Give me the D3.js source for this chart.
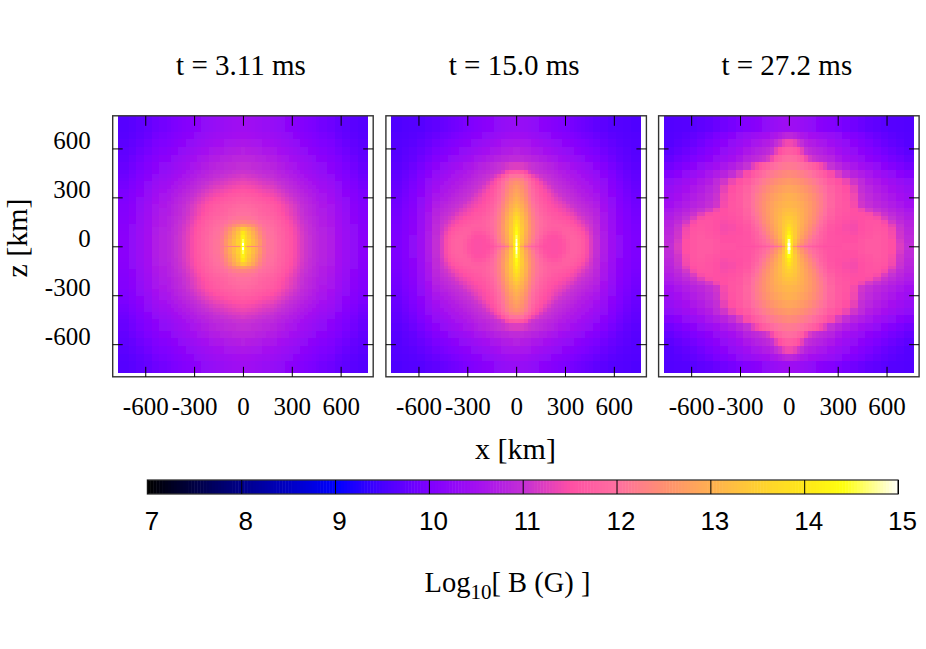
<!DOCTYPE html>
<html>
<head>
<meta charset="utf-8">
<script src="https://d3js.org/d3.v7.min.js"></script>
<style>
    body { margin: 0; background: #fff; }
    text { fill: #000; }
</style>
</head>
<body>
<div id="chart"></div>
<script>
// data: log10 B on one quadrant (z rows going up, x columns going right)
const titles = ["t = 3.11 ms", "t = 15.0 ms", "t = 27.2 ms"];
const xTicks = [-600, -300, 0, 300, 600];
const zTicks = [600, 300, 0, -300, -600];
const barTicks = [7, 8, 9, 10, 11, 12, 13, 14, 15];

// palette of the colour bar
const paletteValues = [7, 8, 9, 9.5, 10, 10.5, 11, 11.5, 12, 12.5, 13, 13.5, 14, 14.4, 15];
const paletteColors = ["#000000", "#00008b", "#0000ff", "#4a00ff", "#8000ff", "#a410f0", "#c430d4", "#ff50a4", "#ff70a0", "#ff9070", "#ffb050", "#ffd030", "#ffe818", "#ffff10", "#ffffff"];

// cell edges in km
const fineEdges = [0, 6, 12, 23, 47, 71, 94, 118, 141, 165, 188, 212, 235, 259, 282, 306, 329, 353, 376, 400, 423, 447, 470, 517, 564, 611, 658, 705, 766];
const midEdges = [0, 6, 12, 24, 47, 71, 94, 118, 141, 165, 188, 212, 235, 282, 329, 376, 423, 470, 517, 564, 611, 658, 705, 766];

const fieldEarly = [
    [14.4,14.0,13.1,12.5,12.3,12.3,12.3,12.15,12.07,12.05,11.95,11.85,11.76,11.65,11.55,11.43,11.3,11.18,11.08,11.0,10.92,10.85,10.78,10.68,10.52,10.38,10.25,10.15],
    [14.9,14.4,13.7,13.4,13.2,12.95,12.6,12.25,12.07,12.05,11.95,11.85,11.76,11.65,11.55,11.43,11.3,11.18,11.08,11.0,10.92,10.85,10.78,10.68,10.52,10.38,10.25,10.15],
    [15.0,14.4,13.8,13.5,13.2,12.95,12.6,12.25,12.07,12.05,11.95,11.85,11.76,11.65,11.55,11.43,11.3,11.18,11.08,11.0,10.92,10.85,10.78,10.68,10.52,10.38,10.25,10.15],
    [14.6,14.2,13.8,13.5,13.2,12.9,12.6,12.25,12.07,12.05,11.95,11.85,11.76,11.65,11.55,11.43,11.3,11.18,11.08,11.0,10.92,10.85,10.78,10.68,10.52,10.38,10.25,10.15],
    [14.2,14.1,13.7,13.4,13.1,12.8,12.5,12.2,12.05,12.02,11.93,11.83,11.75,11.64,11.54,11.42,11.3,11.18,11.08,11.0,10.92,10.85,10.78,10.68,10.52,10.38,10.25,10.15],
    [14.0,13.9,13.6,13.3,13.0,12.7,12.4,12.15,12.03,12.0,11.9,11.82,11.73,11.62,11.52,11.4,11.28,11.16,11.06,10.98,10.9,10.83,10.77,10.66,10.5,10.37,10.24,10.14],
    [13.4,13.4,13.3,13.1,12.85,12.55,12.3,12.1,12.0,11.97,11.88,11.8,11.7,11.6,11.5,11.38,11.25,11.14,11.05,10.97,10.89,10.82,10.75,10.65,10.5,10.36,10.24,10.13],
    [12.7,12.7,12.65,12.6,12.45,12.3,12.15,12.02,11.95,11.92,11.84,11.76,11.66,11.56,11.46,11.34,11.22,11.12,11.03,10.95,10.87,10.8,10.74,10.64,10.48,10.35,10.22,10.12],
    [12.3,12.3,12.3,12.25,12.2,12.12,12.02,11.95,11.9,11.87,11.8,11.72,11.62,11.52,11.42,11.3,11.18,11.08,11.0,10.93,10.85,10.78,10.72,10.62,10.47,10.33,10.2,10.1],
    [12.1,12.1,12.1,12.08,12.04,11.98,11.92,11.87,11.83,11.8,11.73,11.65,11.56,11.46,11.36,11.25,11.14,11.05,10.97,10.9,10.83,10.76,10.7,10.6,10.45,10.32,10.19,10.09],
    [12.0,12.0,12.0,11.98,11.94,11.9,11.85,11.8,11.77,11.74,11.67,11.6,11.5,11.4,11.3,11.2,11.1,11.02,10.94,10.87,10.8,10.73,10.67,10.57,10.43,10.3,10.17,10.07],
    [11.95,11.95,11.95,11.93,11.9,11.86,11.82,11.76,11.72,11.68,11.62,11.55,11.46,11.37,11.28,11.18,11.08,11.0,10.92,10.85,10.78,10.71,10.65,10.55,10.41,10.28,10.16,10.06],
    [11.9,11.9,11.9,11.88,11.85,11.82,11.78,11.72,11.68,11.66,11.6,11.52,11.43,11.34,11.24,11.15,11.06,10.98,10.9,10.83,10.77,10.7,10.64,10.54,10.4,10.27,10.15,10.05],
    [11.82,11.82,11.82,11.8,11.77,11.74,11.7,11.65,11.6,11.58,11.52,11.45,11.36,11.27,11.18,11.1,11.02,10.94,10.87,10.8,10.74,10.67,10.61,10.51,10.37,10.25,10.13,10.03],
    [11.75,11.75,11.74,11.72,11.7,11.66,11.62,11.57,11.53,11.5,11.44,11.37,11.29,11.2,11.12,11.05,10.97,10.9,10.83,10.77,10.7,10.63,10.57,10.48,10.34,10.22,10.1,10.0],
    [11.65,11.65,11.64,11.62,11.6,11.56,11.52,11.47,11.44,11.41,11.35,11.28,11.2,11.12,11.05,10.98,10.92,10.85,10.78,10.72,10.66,10.6,10.54,10.45,10.31,10.19,10.08,9.98],
    [11.55,11.55,11.54,11.52,11.5,11.46,11.42,11.37,11.34,11.31,11.25,11.18,11.11,11.04,10.98,10.92,10.85,10.79,10.73,10.67,10.61,10.55,10.5,10.41,10.28,10.16,10.05,9.95],
    [11.45,11.45,11.44,11.42,11.4,11.36,11.32,11.27,11.24,11.21,11.15,11.09,11.03,10.97,10.91,10.85,10.79,10.73,10.67,10.61,10.56,10.5,10.45,10.37,10.24,10.13,10.02,9.92],
    [11.35,11.35,11.34,11.32,11.3,11.26,11.22,11.17,11.14,11.12,11.07,11.01,10.96,10.9,10.84,10.79,10.73,10.67,10.62,10.56,10.51,10.46,10.41,10.33,10.21,10.1,9.99,9.89],
    [11.25,11.25,11.24,11.22,11.2,11.17,11.13,11.09,11.06,11.04,10.99,10.94,10.89,10.84,10.78,10.73,10.67,10.62,10.56,10.51,10.46,10.41,10.36,10.29,10.17,10.06,9.96,9.86],
    [11.15,11.15,11.14,11.12,11.1,11.07,11.04,11.0,10.98,10.96,10.92,10.87,10.82,10.77,10.72,10.67,10.61,10.56,10.51,10.46,10.41,10.36,10.32,10.24,10.13,10.03,9.93,9.83],
    [11.05,11.05,11.04,11.03,11.01,10.99,10.96,10.93,10.91,10.89,10.85,10.8,10.75,10.7,10.65,10.6,10.55,10.5,10.45,10.41,10.36,10.31,10.27,10.2,10.09,9.99,9.9,9.8],
    [10.98,10.98,10.97,10.96,10.94,10.92,10.89,10.86,10.84,10.82,10.78,10.73,10.69,10.64,10.59,10.54,10.5,10.45,10.4,10.36,10.31,10.26,10.22,10.15,10.05,9.96,9.87,9.78],
    [10.88,10.88,10.87,10.86,10.84,10.82,10.79,10.76,10.74,10.72,10.68,10.64,10.59,10.55,10.5,10.46,10.42,10.38,10.33,10.29,10.24,10.2,10.16,10.09,10.0,9.91,9.82,9.74],
    [10.75,10.75,10.74,10.73,10.71,10.69,10.66,10.63,10.62,10.6,10.56,10.52,10.48,10.44,10.4,10.36,10.32,10.28,10.24,10.2,10.16,10.12,10.08,10.02,9.93,9.84,9.76,9.7],
    [10.62,10.62,10.61,10.6,10.58,10.56,10.54,10.51,10.5,10.48,10.45,10.42,10.38,10.35,10.31,10.27,10.23,10.2,10.16,10.12,10.08,10.04,10.0,9.95,9.87,9.79,9.72,9.67],
    [10.52,10.52,10.51,10.5,10.48,10.46,10.44,10.42,10.41,10.39,10.36,10.33,10.29,10.26,10.22,10.19,10.15,10.12,10.08,10.05,10.01,9.98,9.94,9.89,9.81,9.74,9.68,9.64],
    [10.45,10.45,10.44,10.43,10.41,10.39,10.37,10.34,10.33,10.31,10.28,10.25,10.22,10.19,10.15,10.12,10.08,10.05,10.02,9.98,9.95,9.92,9.88,9.83,9.76,9.7,9.65,9.62]
];

const fieldMiddle = [
    [14.7,14.4,13.6,12.7,12.1,11.85,11.75,11.65,11.55,11.5,11.5,11.48,11.48,11.5,11.55,11.68,11.78,11.78,11.72,11.62,11.45,11.2,10.98,10.68,10.42,10.22,10.08,9.98],
    [15.0,14.7,14.0,13.1,12.5,12.2,11.95,11.78,11.6,11.5,11.5,11.48,11.48,11.5,11.55,11.68,11.78,11.78,11.72,11.62,11.45,11.2,10.98,10.68,10.42,10.22,10.08,9.98],
    [15.0,14.7,14.1,13.2,12.7,12.35,12.05,11.85,11.65,11.52,11.5,11.48,11.48,11.5,11.55,11.68,11.78,11.78,11.72,11.62,11.45,11.2,10.98,10.68,10.42,10.22,10.08,9.98],
    [14.9,14.6,14.0,13.3,12.85,12.5,12.18,11.92,11.7,11.55,11.5,11.48,11.48,11.5,11.58,11.7,11.78,11.78,11.72,11.62,11.45,11.2,10.98,10.68,10.42,10.22,10.08,9.98],
    [14.6,14.5,13.95,13.35,12.9,12.55,12.25,12.0,11.8,11.62,11.52,11.5,11.5,11.55,11.65,11.75,11.78,11.75,11.68,11.58,11.42,11.18,10.96,10.66,10.41,10.21,10.08,9.98],
    [14.4,14.3,13.9,13.4,12.95,12.6,12.3,12.05,11.88,11.74,11.62,11.57,11.58,11.64,11.72,11.76,11.74,11.7,11.62,11.52,11.36,11.14,10.94,10.65,10.4,10.2,10.07,9.97],
    [14.25,14.2,13.85,13.4,13.0,12.62,12.3,12.08,11.92,11.82,11.74,11.68,11.68,11.7,11.72,11.72,11.68,11.62,11.54,11.42,11.26,11.1,10.92,10.64,10.38,10.19,10.06,9.96],
    [14.1,14.05,13.8,13.35,13.0,12.62,12.3,12.08,11.94,11.84,11.77,11.72,11.72,11.72,11.69,11.65,11.6,11.54,11.44,11.32,11.18,11.06,10.9,10.62,10.37,10.18,10.05,9.95],
    [13.95,13.9,13.7,13.3,12.98,12.58,12.28,12.08,11.94,11.83,11.76,11.7,11.68,11.66,11.62,11.58,11.52,11.44,11.34,11.22,11.1,11.02,10.88,10.6,10.36,10.17,10.04,9.94],
    [13.75,13.72,13.55,13.25,12.92,12.55,12.25,12.05,11.9,11.8,11.72,11.65,11.62,11.58,11.54,11.5,11.42,11.34,11.22,11.12,11.04,10.98,10.85,10.58,10.34,10.16,10.03,9.93],
    [13.55,13.52,13.4,13.15,12.85,12.5,12.2,12.0,11.85,11.75,11.65,11.6,11.56,11.52,11.46,11.4,11.32,11.22,11.1,11.03,10.97,10.92,10.8,10.55,10.32,10.14,10.01,9.91],
    [13.38,13.35,13.25,13.05,12.75,12.42,12.15,11.95,11.8,11.7,11.6,11.54,11.5,11.44,11.38,11.3,11.2,11.1,11.03,10.97,10.92,10.86,10.76,10.52,10.3,10.12,10.0,9.9],
    [13.22,13.2,13.1,12.95,12.65,12.35,12.08,11.9,11.76,11.65,11.55,11.48,11.42,11.36,11.28,11.18,11.08,11.02,10.96,10.92,10.86,10.8,10.7,10.49,10.27,10.1,9.98,9.88],
    [13.1,13.08,13.0,12.85,12.58,12.28,12.02,11.85,11.7,11.6,11.5,11.42,11.36,11.28,11.18,11.08,11.02,10.96,10.92,10.86,10.8,10.75,10.65,10.45,10.24,10.08,9.96,9.86],
    [13.0,12.98,12.9,12.75,12.5,12.2,11.96,11.8,11.66,11.55,11.46,11.38,11.28,11.18,11.08,11.02,10.96,10.92,10.86,10.8,10.74,10.69,10.6,10.42,10.22,10.06,9.94,9.84],
    [12.9,12.88,12.82,12.66,12.42,12.14,11.92,11.75,11.6,11.5,11.42,11.3,11.18,11.08,11.02,10.96,10.92,10.86,10.8,10.74,10.69,10.64,10.55,10.38,10.19,10.04,9.92,9.82],
    [12.8,12.78,12.72,12.58,12.35,12.08,11.88,11.7,11.55,11.45,11.32,11.18,11.08,11.02,10.96,10.92,10.86,10.8,10.74,10.69,10.64,10.59,10.5,10.34,10.16,10.01,9.9,9.8],
    [12.7,12.68,12.62,12.5,12.28,12.02,11.82,11.62,11.48,11.34,11.2,11.08,11.02,10.96,10.9,10.85,10.8,10.74,10.69,10.64,10.59,10.54,10.45,10.3,10.13,9.98,9.87,9.78],
    [12.55,12.55,12.5,12.4,12.2,11.95,11.72,11.52,11.38,11.22,11.08,11.02,10.96,10.9,10.85,10.8,10.74,10.69,10.64,10.59,10.54,10.49,10.4,10.26,10.1,9.96,9.85,9.76],
    [12.35,12.35,12.32,12.25,12.02,11.85,11.6,11.42,11.22,11.08,11.02,10.96,10.9,10.85,10.8,10.74,10.69,10.64,10.59,10.54,10.49,10.44,10.35,10.22,10.07,9.93,9.82,9.74],
    [12.05,12.05,12.02,11.98,11.8,11.6,11.35,11.2,11.08,11.02,10.96,10.9,10.85,10.8,10.74,10.69,10.64,10.59,10.54,10.49,10.44,10.39,10.3,10.17,10.03,9.9,9.8,9.72],
    [11.65,11.65,11.63,11.6,11.45,11.2,11.08,11.02,10.97,10.93,10.88,10.84,10.79,10.73,10.68,10.63,10.58,10.53,10.48,10.43,10.38,10.33,10.25,10.12,9.99,9.87,9.77,9.7],
    [11.2,11.2,11.2,11.18,11.12,11.05,11.0,10.95,10.9,10.85,10.8,10.75,10.7,10.64,10.6,10.55,10.5,10.45,10.4,10.36,10.31,10.27,10.18,10.05,9.93,9.82,9.73,9.67],
    [10.92,10.92,10.92,10.9,10.88,10.85,10.8,10.76,10.72,10.67,10.62,10.58,10.53,10.48,10.43,10.39,10.35,10.31,10.26,10.21,10.17,10.12,10.05,9.94,9.85,9.75,9.69,9.64],
    [10.75,10.75,10.75,10.73,10.7,10.67,10.63,10.6,10.56,10.52,10.48,10.43,10.39,10.35,10.31,10.27,10.23,10.19,10.15,10.1,10.06,10.02,9.96,9.87,9.79,9.72,9.66,9.62],
    [10.6,10.6,10.6,10.58,10.56,10.53,10.5,10.46,10.42,10.38,10.35,10.31,10.27,10.24,10.2,10.16,10.12,10.08,10.04,10.01,9.97,9.93,9.88,9.8,9.73,9.67,9.63,9.6],
    [10.45,10.45,10.45,10.43,10.41,10.38,10.35,10.32,10.28,10.25,10.21,10.18,10.15,10.12,10.08,10.05,10.01,9.97,9.94,9.9,9.87,9.84,9.79,9.73,9.67,9.63,9.6,9.58],
    [10.32,10.32,10.32,10.31,10.29,10.27,10.24,10.21,10.18,10.15,10.12,10.09,10.05,10.02,9.99,9.95,9.92,9.88,9.85,9.82,9.79,9.76,9.71,9.66,9.62,9.59,9.57,9.55]
];

const fieldLate = [
    [14.8,14.5,13.3,12.5,12.0,11.9,11.8,11.7,11.65,11.6,11.55,11.5,11.5,11.5,11.55,11.55,11.6,11.65,11.65,11.6,11.5,11.2,10.95],
    [15.0,14.6,13.8,13.1,12.6,12.3,12.05,11.9,11.78,11.7,11.62,11.55,11.55,11.52,11.55,11.55,11.6,11.65,11.65,11.6,11.5,11.2,10.95],
    [15.0,14.7,13.9,13.2,12.75,12.5,12.25,12.02,11.9,11.8,11.68,11.6,11.55,11.52,11.55,11.55,11.6,11.65,11.65,11.6,11.5,11.2,10.95],
    [14.8,14.5,13.9,13.3,12.9,12.6,12.35,12.12,11.95,11.85,11.72,11.62,11.55,11.52,11.5,11.5,11.6,11.65,11.65,11.6,11.5,11.15,10.92],
    [14.4,14.3,13.85,13.4,13.05,12.75,12.5,12.25,12.05,11.92,11.78,11.66,11.55,11.52,11.5,11.5,11.55,11.6,11.65,11.6,11.45,11.1,10.9],
    [14.1,14.0,13.7,13.4,13.1,12.85,12.6,12.38,12.15,11.98,11.82,11.68,11.55,11.5,11.48,11.45,11.52,11.58,11.62,11.58,11.42,11.08,10.87],
    [13.9,13.85,13.6,13.4,13.12,12.9,12.68,12.45,12.25,12.05,11.88,11.72,11.56,11.5,11.45,11.42,11.5,11.55,11.6,11.55,11.4,11.05,10.85],
    [13.7,13.65,13.5,13.38,13.15,12.95,12.72,12.52,12.32,12.12,11.95,11.78,11.6,11.52,11.45,11.42,11.5,11.55,11.58,11.5,11.3,11.0,10.82],
    [13.5,13.5,13.45,13.35,13.15,12.97,12.78,12.58,12.4,12.2,12.02,11.85,11.66,11.55,11.48,11.45,11.5,11.55,11.55,11.42,11.12,10.92,10.78],
    [13.4,13.4,13.38,13.3,13.13,12.98,12.8,12.62,12.45,12.27,12.1,11.92,11.72,11.58,11.52,11.48,11.5,11.52,11.45,11.2,11.0,10.85,10.72],
    [13.3,13.3,13.28,13.22,13.1,12.98,12.82,12.65,12.48,12.32,12.15,11.98,11.78,11.62,11.55,11.5,11.5,11.45,11.25,11.05,10.9,10.77,10.65],
    [13.2,13.2,13.18,13.15,13.05,12.95,12.82,12.67,12.5,12.35,12.2,12.02,11.82,11.64,11.58,11.5,11.38,11.15,11.02,10.92,10.8,10.7,10.58],
    [13.1,13.1,13.08,13.05,12.98,12.9,12.78,12.65,12.5,12.36,12.22,12.05,11.85,11.66,11.58,11.42,11.1,10.98,10.88,10.78,10.68,10.58,10.48],
    [13.0,13.0,12.98,12.95,12.88,12.8,12.7,12.58,12.45,12.32,12.2,12.03,11.83,11.65,11.55,11.38,11.05,10.9,10.8,10.7,10.6,10.5,10.4],
    [12.85,12.85,12.83,12.8,12.74,12.66,12.56,12.45,12.33,12.22,12.1,11.97,11.78,11.62,11.5,11.3,10.98,10.83,10.72,10.62,10.52,10.42,10.32],
    [12.65,12.65,12.63,12.6,12.54,12.47,12.38,12.28,12.17,12.06,11.95,11.83,11.66,11.52,11.35,11.1,10.9,10.74,10.62,10.52,10.42,10.32,10.22],
    [12.4,12.4,12.38,12.36,12.3,12.24,12.16,12.06,11.96,11.85,11.75,11.62,11.45,11.18,10.98,10.82,10.68,10.56,10.45,10.35,10.25,10.15,10.05],
    [12.15,12.15,12.14,12.12,12.06,12.0,11.92,11.82,11.7,11.58,11.42,11.25,11.0,10.85,10.7,10.58,10.47,10.37,10.27,10.16,10.06,9.96,9.88],
    [11.95,11.95,11.94,11.9,11.82,11.68,11.4,11.15,11.05,10.98,10.92,10.87,10.78,10.63,10.5,10.4,10.3,10.2,10.1,10.0,9.92,9.84,9.76],
    [11.7,11.7,11.68,11.62,11.5,11.3,11.0,10.92,10.85,10.8,10.75,10.7,10.62,10.48,10.38,10.28,10.18,10.08,9.98,9.9,9.82,9.75,9.68],
    [11.4,11.4,11.38,11.3,11.1,10.95,10.8,10.74,10.68,10.63,10.58,10.53,10.45,10.35,10.26,10.16,10.06,9.97,9.88,9.8,9.74,9.68,9.62],
    [10.88,10.88,10.87,10.82,10.72,10.64,10.56,10.52,10.48,10.44,10.4,10.36,10.3,10.22,10.12,10.03,9.95,9.87,9.8,9.74,9.68,9.63,9.6],
    [10.42,10.42,10.42,10.4,10.37,10.33,10.29,10.25,10.21,10.17,10.13,10.09,10.05,9.98,9.92,9.86,9.8,9.74,9.69,9.65,9.62,9.59,9.57]
];

const fields = [fieldEarly, fieldMiddle, fieldLate];
const edges = [fineEdges, fineEdges, midEdges];

const width = 926, height = 649;
const serif = "'Liberation Serif', serif";
const sans = "'Liberation Sans', sans-serif";

const svg = d3.select("#chart").append("svg")
    .attr("width", width)
    .attr("height", height)
    .style("display", "block");

const defs = svg.append("defs");
defs.append("filter")
    .attr("id", "soft")
    .attr("x", "-5%").attr("y", "-5%").attr("width", "110%").attr("height", "110%")
    .append("feGaussianBlur")
    .attr("stdDeviation", 0.55);

const color = d3.scaleLinear()
    .domain(paletteValues)
    .range(paletteColors)
    .clamp(true);

// panel frames
const panelLeft = [112.7, 385.9, 658.6];
const panelWidth = 260.5;
const panelTop = 115.8;
const panelHeight = 261;
const zMin = -775;

panelLeft.forEach((left, p) => {
    const x = d3.scaleLinear().domain([-800, 800]).range([left, left + panelWidth]);
    const z = d3.scaleLinear().domain([-800, 800]).range([panelTop + panelHeight, panelTop]);

    defs.append("clipPath")
        .attr("id", "clip" + p)
        .append("rect")
        .attr("x", left).attr("y", panelTop)
        .attr("width", panelWidth).attr("height", panelHeight);

    // expand the quadrant into the four quadrants
    const cells = [];
    const e = edges[p];
    fields[p].forEach((row, i) => {
        row.forEach((v, j) => {
            [1, -1].forEach(sx => {
                [1, -1].forEach(sz => {
                    // top row runs past the frame, bottom stops at zMin
                    const zFar = i === row.length - 1 ? (sz > 0 ? 830 : zMin) : sz * e[i + 1];
                    cells.push({
                        x0: Math.min(sx * e[j], sx * e[j + 1]),
                        x1: Math.max(sx * e[j], sx * e[j + 1]),
                        z0: Math.min(sz * e[i], zFar),
                        z1: Math.max(sz * e[i], zFar),
                        v: v
                    });
                });
            });
        });
    });

    svg.append("g")
        .attr("clip-path", `url(#clip${p})`)
        .append("g")
        .attr("filter", "url(#soft)")
        .selectAll("rect")
        .data(cells)
        .enter().append("rect")
        .attr("x", d => x(d.x0))
        .attr("y", d => z(d.z1))
        .attr("width", d => x(d.x1) - x(d.x0) + 0.4)
        .attr("height", d => z(d.z0) - z(d.z1) + 0.4)
        .attr("shape-rendering", "crispEdges")
        .attr("fill", d => color(d.v));

    // frame
    svg.append("rect")
        .attr("x", left).attr("y", panelTop)
        .attr("width", panelWidth).attr("height", panelHeight)
        .attr("fill", "none")
        .attr("stroke", "#333")
        .attr("stroke-width", 1.4);

    // ticks on all four sides, labels only bottom and on the first left side
    const bottom = svg.append("g")
        .attr("transform", `translate(0,${panelTop + panelHeight})`)
        .call(d3.axisBottom(x).tickValues(xTicks).tickSize(-10));
    const top = svg.append("g")
        .attr("transform", `translate(0,${panelTop})`)
        .call(d3.axisTop(x).tickValues(xTicks).tickSize(-10).tickFormat(""));
    const leftAxis = svg.append("g")
        .attr("transform", `translate(${left},0)`)
        .call(d3.axisLeft(z).tickValues(zTicks).tickSize(-10).tickPadding(22)
            .tickFormat(p === 0 ? d => String(d) : ""));
    const rightAxis = svg.append("g")
        .attr("transform", `translate(${left + panelWidth},0)`)
        .call(d3.axisRight(z).tickValues(zTicks).tickSize(-10).tickFormat(""));

    [bottom, top, leftAxis, rightAxis].forEach(a => {
        a.select(".domain").remove();
        a.selectAll("line").attr("stroke", "#000").attr("stroke-width", 1);
        a.selectAll("text")
            .attr("font-family", serif)
            .attr("font-size", 25)
            .attr("fill", "#000");
    });
    bottom.selectAll("text").attr("y", 31).attr("dy", 7.5).text(d => String(d));
    leftAxis.selectAll("text").attr("dy", 0);

    svg.append("text")
        .attr("x", x(0) - 2)
        .attr("y", 75)
        .attr("text-anchor", "middle")
        .attr("font-family", serif)
        .attr("font-size", 29)
        .text(titles[p]);
});

// axis titles
svg.append("text")
    .attr("x", 515.5)
    .attr("y", 459)
    .attr("text-anchor", "middle")
    .attr("font-family", serif)
    .attr("font-size", 30)
    .text("x [km]");

svg.append("text")
    .attr("transform", "translate(27,238) rotate(-90)")
    .attr("text-anchor", "middle")
    .attr("font-family", serif)
    .attr("font-size", 30)
    .text("z [km]");

// colour bar
const barX = d3.scaleLinear().domain([7, 15]).range([147.4, 898]);
const barLevels = d3.range(7, 15, 8 / 256);
const barTop = 480, barHeight = 14;

svg.append("g").selectAll("rect")
    .data(barLevels)
    .enter().append("rect")
    .attr("x", d => barX(d))
    .attr("y", barTop)
    .attr("width", (barX(15) - barX(7)) / barLevels.length + 0.5)
    .attr("height", barHeight)
    .attr("fill", d => color(d));

svg.append("rect")
    .attr("x", barX(7)).attr("y", barTop)
    .attr("width", barX(15) - barX(7)).attr("height", barHeight)
    .attr("fill", "none")
    .attr("stroke", "#333")
    .attr("stroke-width", 1.3);

const barAxis = svg.append("g")
    .attr("transform", `translate(0,${barTop + barHeight})`)
    .call(d3.axisBottom(barX).tickValues(barTicks).tickSize(-barHeight).tickFormat(d3.format("d")));
barAxis.select(".domain").remove();
barAxis.selectAll("line").attr("stroke", "#000").attr("stroke-width", 1);
barAxis.selectAll("text")
    .attr("font-family", sans)
    .attr("font-size", 26)
    .attr("fill", "#000")
    .attr("x", 4)
    .attr("y", 36)
    .attr("dy", 0);

// colour bar title with its subscript
const barTitle = svg.append("text")
    .attr("x", 507.5)
    .attr("y", 592)
    .attr("text-anchor", "middle")
    .attr("font-family", serif)
    .attr("font-size", 28.5);
barTitle.append("tspan").text("Log");
barTitle.append("tspan").attr("font-size", 21).attr("dy", 7).text("10");
barTitle.append("tspan").attr("dy", -7).text("[ B (G) ]");
</script>
</body>
</html>
